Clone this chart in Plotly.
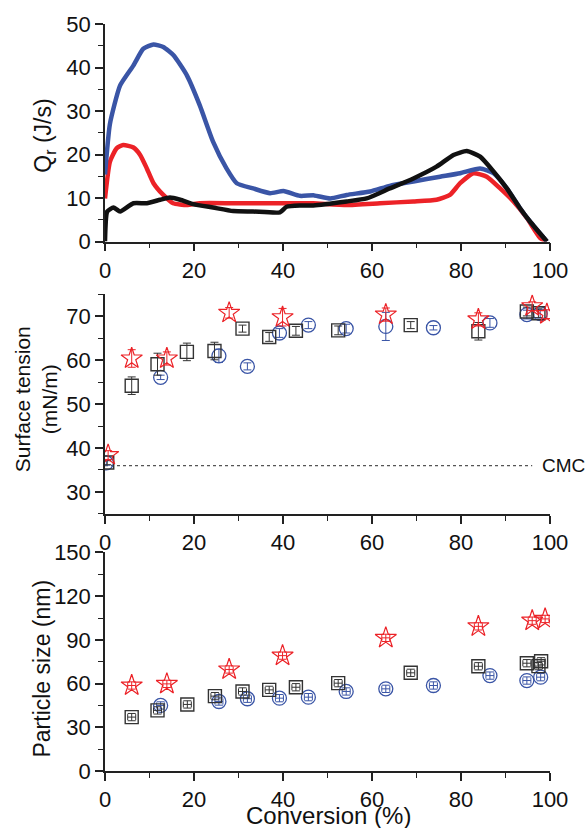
import plotly.graph_objects as go

# ---------------- Reaction heat flow Qr (J/s) vs conversion ----------------
qr_blue_x = [0, 1.1, 3.4, 6.4, 8.6, 10.9, 13.1, 15.4, 18.4, 21.3, 24.3, 27.3, 29.6, 33.3, 37.1, 40.1,
             43.8, 47.0, 50.6, 54.3, 59.6, 64.0, 69.3, 75.3, 79.8, 84.3, 87.3, 90.3, 93.3, 95.5, 99.3]
qr_blue_y = [15.4, 27.0, 35.9, 40.5, 44.3, 45.3, 44.7, 42.8, 38.2, 31.3, 22.9, 16.8, 13.4, 12.2, 11.1, 11.6,
             10.5, 10.6, 9.9, 10.7, 11.5, 12.8, 13.8, 14.9, 15.7, 16.8, 15.7, 12.2, 7.6, 4.6, 0.0]

qr_red_x = [0, 1.1, 2.6, 4.1, 6.4, 7.9, 9.4, 10.9, 13.1, 15.3, 18.4, 21.3, 28.8, 36.3, 43.8, 46.8,
            54.3, 61.8, 69.3, 74.5, 77.5, 79.8, 82.8, 85.8, 88.8, 91.8, 94.8, 97.8, 99.3]
qr_red_y = [9.9, 18.3, 21.4, 22.2, 21.6, 19.9, 16.8, 13.4, 10.7, 8.8, 8.4, 8.8, 8.8, 8.8, 8.8, 8.8,
            8.4, 8.8, 9.2, 9.6, 10.7, 13.4, 15.7, 14.9, 12.2, 9.2, 5.4, 0.8, 0.0]

qr_black_x = [0, 0.5, 1.9, 3.4, 6.4, 9.4, 12.4, 14.6, 16.9, 19.8, 24.3, 28.8, 33.3, 39.3, 40.8, 43.8,
              46.8, 54.3, 58.8, 64.0, 69.3, 74.5, 78.3, 81.3, 84.3, 87.3, 90.3, 93.3, 95.5, 99.3]
qr_black_y = [0.0, 6.9, 7.8, 6.9, 8.8, 8.8, 9.6, 10.1, 9.6, 8.6, 7.8, 7.0, 6.9, 6.7, 8.0, 8.3,
              8.3, 9.2, 9.9, 12.2, 14.5, 17.2, 19.9, 20.8, 19.5, 16.1, 12.2, 7.6, 4.6, 0.0]

# ---------------- Surface tension (mN/m) vs conversion ----------------
st_sq_x = [0.5, 6.0, 11.8, 18.4, 24.6, 30.9, 36.9, 42.9, 52.4, 68.7, 83.9, 94.8, 97.4]
st_sq_y = [36.7, 54.2, 59.1, 61.9, 62.1, 67.2, 65.3, 66.7, 66.8, 68.0, 66.6, 71.1, 70.7]
st_sq_err = [0.5, 2.0, 2.5, 2.0, 2.0, 0.8, 1.0, 1.0, 1.0, 0.8, 2.0, 1.0, 1.0]

st_ci_x = [0.3, 12.5, 25.6, 32.0, 39.2, 45.7, 54.2, 63.1, 73.8, 86.5, 94.8, 97.8]
st_ci_y = [36.6, 56.1, 61.0, 58.6, 66.2, 68.0, 67.2, 67.7, 67.4, 68.5, 70.4, 70.6]
st_ci_err = [0.5, 0.5, 1.5, 0.8, 1.0, 0.8, 1.0, 3.2, 0.5, 1.0, 1.0, 1.0]

st_st_x = [0.7, 6.0, 13.9, 27.9, 39.9, 63.1, 83.9, 96.0, 99.3]
st_st_y = [38.4, 60.4, 60.4, 70.8, 69.8, 70.4, 69.3, 72.3, 70.5]
st_st_err = [1.0, 2.0, 1.5, 1.2, 2.0, 1.5, 1.5, 1.0, 1.0]

cmc_x = [0, 96]
cmc_y = [36, 36]

# ---------------- Particle size (nm) vs conversion ----------------
ps_sq_x = [6.0, 11.8, 18.5, 24.7, 30.9, 36.9, 42.9, 52.4, 68.7, 83.9, 94.8, 97.4, 98.0]
ps_sq_y = [37.0, 41.6, 45.7, 51.4, 54.6, 55.7, 57.5, 60.3, 67.4, 71.9, 74.0, 72.0, 75.3]

ps_ci_x = [12.5, 25.6, 32.0, 39.2, 45.7, 54.2, 63.1, 73.8, 86.5, 94.8, 97.9]
ps_ci_y = [45.0, 47.7, 49.6, 50.0, 50.7, 54.6, 56.4, 58.7, 65.5, 62.1, 64.4]

ps_st_x = [6.0, 13.9, 27.9, 39.9, 63.1, 83.9, 96.0, 98.9]
ps_st_y = [58.7, 59.8, 69.7, 79.2, 91.4, 99.3, 103.2, 104.4]

BLUE = "#3a55a6"
RED = "#ec2227"
BLACK = "#111111"
GRAY = "#333333"
FONT = "Liberation Sans, Arial, sans-serif"

# pixel layout of the three panels
W, H = 588, 828
L, R = 105, 550
T, B = 22, 770.7
panels = {"top": (22, 240), "mid": (293, 513), "bot": (551.7, 770.7)}


def dom(top_px, bot_px):
    h = B - T
    return [(B - bot_px) / h, (B - top_px) / h]


fig = go.Figure()

# heat flow curves
for xs, ys, c in [(qr_red_x, qr_red_y, RED), (qr_blue_x, qr_blue_y, BLUE), (qr_black_x, qr_black_y, BLACK)]:
    fig.add_trace(go.Scatter(x=xs, y=ys, mode="lines", line=dict(color=c, width=4.5, shape="spline", smoothing=0.5),
                             xaxis="x", yaxis="y", showlegend=False))

# surface tension
fig.add_trace(go.Scatter(x=cmc_x, y=cmc_y, mode="lines", line=dict(color="#555555", width=1.2, dash="dot"),
                         xaxis="x2", yaxis="y2", showlegend=False))


def err(arr, c):
    return dict(type="data", array=arr, visible=True, color=c, thickness=1, width=4)


fig.add_trace(go.Scatter(x=st_ci_x, y=st_ci_y, mode="markers", error_y=err(st_ci_err, BLUE),
                         marker=dict(symbol="circle-open", size=14, color=BLUE, line=dict(width=1.3)),
                         xaxis="x2", yaxis="y2", showlegend=False))
fig.add_trace(go.Scatter(x=st_sq_x, y=st_sq_y, mode="markers", error_y=err(st_sq_err, GRAY),
                         marker=dict(symbol="square-open", size=13, color=GRAY, line=dict(width=1.4)),
                         xaxis="x2", yaxis="y2", showlegend=False))
fig.add_trace(go.Scatter(x=st_st_x, y=st_st_y, mode="markers", error_y=err(st_st_err, RED),
                         marker=dict(symbol="star-open", size=16, color=RED, line=dict(width=1.2)),
                         xaxis="x2", yaxis="y2", showlegend=False))


# particle size: small x/y error bars sit inside the symbols
def small_y(c):
    return dict(type="constant", value=2.5, visible=True, thickness=1, width=4, color=c)


def small_x(c):
    return dict(type="constant", value=0.9, visible=True, thickness=1, width=3, color=c)


fig.add_trace(go.Scatter(x=ps_ci_x, y=ps_ci_y, mode="markers", error_y=small_y(BLUE), error_x=small_x(BLUE),
                         marker=dict(symbol="circle-open", size=14, color=BLUE, line=dict(width=1.3)),
                         xaxis="x3", yaxis="y3", showlegend=False))
fig.add_trace(go.Scatter(x=ps_sq_x, y=ps_sq_y, mode="markers", error_y=small_y(GRAY), error_x=small_x(GRAY),
                         marker=dict(symbol="square-open", size=13, color=GRAY, line=dict(width=1.4)),
                         xaxis="x3", yaxis="y3", showlegend=False))
fig.add_trace(go.Scatter(x=ps_st_x, y=ps_st_y, mode="markers", error_y=small_y(RED), error_x=small_x(RED),
                         marker=dict(symbol="star-open", size=16, color=RED, line=dict(width=1.2)),
                         xaxis="x3", yaxis="y3", showlegend=False))

axis_common = dict(showline=True, linecolor="#222222", linewidth=1.5, ticks="outside", ticklen=8,
                   tickwidth=1.5, tickcolor="#222222", showgrid=False, zeroline=False,
                   tickfont=dict(family=FONT, size=22, color="#111111"))
minor_common = dict(ticks="outside", ticklen=5, tickwidth=1.2, tickcolor="#222222", showgrid=False)


def xax(anchor):
    return dict(axis_common, range=[0, 100], dtick=20, domain=[0, 1], anchor=anchor,
                minor=dict(minor_common, dtick=10))


def yax(rng, dt, mdt, d, anchor, tick0=0):
    return dict(axis_common, range=rng, dtick=dt, tick0=tick0, domain=d, anchor=anchor,
                minor=dict(minor_common, dtick=mdt))


fig.update_layout(
    width=W, height=H,
    margin=dict(l=L, r=W - R, t=T, b=H - B),
    plot_bgcolor="white", paper_bgcolor="white",
    xaxis=xax("y"), yaxis=yax([0, 50], 10, 5, dom(*panels["top"]), "x"),
    xaxis2=xax("y2"), yaxis2=yax([25, 75], 10, 5, dom(*panels["mid"]), "x2", 30),
    xaxis3=xax("y3"), yaxis3=yax([0, 150], 30, 15, dom(*panels["bot"]), "x3"),
    font=dict(family=FONT, color="#111111"),
)


def px_to_paper(px, py):
    return (px - L) / (R - L), (B - py) / (B - T)


annots = [
    ("Q<sub>r</sub> (J/s)", 45, 134, -90, 23),
    ("Surface tension<br>(mN/m)", 36, 398, -90, 21),
    ("Particle size (nm)", 42, 668, -90, 23),
    ("Conversion (%)", 328, 815, 0, 24),
]
for text, px, py, ang, sz in annots:
    ax_, ay_ = px_to_paper(px, py)
    fig.add_annotation(text=text, x=ax_, y=ay_, xref="paper", yref="paper", showarrow=False,
                       textangle=ang, xanchor="center", yanchor="middle",
                       font=dict(family=FONT, size=sz, color="#111111"))

cx, cy = px_to_paper(540, 464.3)
fig.add_annotation(text="CMC", x=cx, y=cy, xref="paper", yref="paper", showarrow=False,
                   xanchor="left", yanchor="middle", font=dict(family=FONT, size=19, color="#111111"))

fig.write_html("out.html")
